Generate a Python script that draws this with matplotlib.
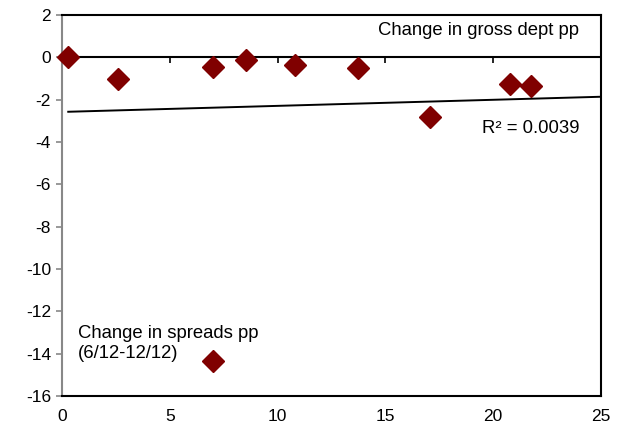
import matplotlib

matplotlib.use("Agg")

import matplotlib.pyplot as plt
import numpy as np

# values
debt_change = [0.29, 2.61, 7.02, 8.52, 10.82, 13.74, 17.07, 20.81, 21.77, 7.02]
spread_change = [0.0, -1.04, -0.47, -0.13, -0.36, -0.49, -2.81, -1.28, -1.36, -14.35]

# linear trendline as shown in the chart
trend_intercept = -2.58
trend_slope = 0.0287
r_squared = 0.0039

x_ticks = [0, 5, 10, 15, 20, 25]
y_ticks = list(range(-16, 3, 2))

plt.rcParams["font.family"] = ["Liberation Sans", "DejaVu Sans"]
plt.rcParams["axes.unicode_minus"] = False

fig = plt.figure(figsize=(6.2, 4.26), dpi=100)
ax = fig.add_axes([0.1, 0.0704, 0.869, 0.8944])

x_line = np.array([min(debt_change), x_ticks[-1]])
ax.plot(x_line, trend_intercept + trend_slope * x_line, color="black", lw=1.4, zorder=2)

ax.plot(debt_change, spread_change, "D", color="#800000", ms=11.5, mec="#800000",
        zorder=3, clip_on=False)

ax.set_xlim(x_ticks[0], x_ticks[-1])
ax.set_ylim(y_ticks[0], y_ticks[-1])
ax.set_xticks(x_ticks)
ax.set_yticks(y_ticks)
ax.tick_params(axis="x", length=0, labelsize=12.5, pad=9)
ax.tick_params(axis="y", length=4, color="#888888", width=1.2, labelsize=12.5, pad=4)

for side in ("top", "right", "bottom"):
    ax.spines[side].set_color("black")
    ax.spines[side].set_linewidth(1.5)
ax.spines["left"].set_color("#888888")
ax.spines["left"].set_linewidth(1.5)

# horizontal axis crossing at y = 0 with its own tick marks (pointing down)
ax.axhline(0, color="black", lw=1.5, zorder=2)
zero_pos = (0 - y_ticks[0]) / (y_ticks[-1] - y_ticks[0])
sec = ax.secondary_xaxis(zero_pos)
sec.set_xticks(x_ticks[1:-1])
sec.set_xticklabels([])
sec.tick_params(direction="in", length=4, width=1.2, color="black")
sec.spines["bottom"].set_visible(False)
sec.spines["top"].set_visible(False)

ax.text(24.0, 1.25, "Change in gross dept pp", ha="right", va="center", fontsize=13.3)
ax.text(24.0, -3.35, f"R\u00b2 = {r_squared:.4f}", ha="right", va="center", fontsize=13.3)
ax.text(0.73, -13.53, "Change in spreads pp\n(6/12-12/12)", ha="left", va="center",
        fontsize=13.3, linespacing=1.25)

fig.savefig("out.png", dpi=100)
